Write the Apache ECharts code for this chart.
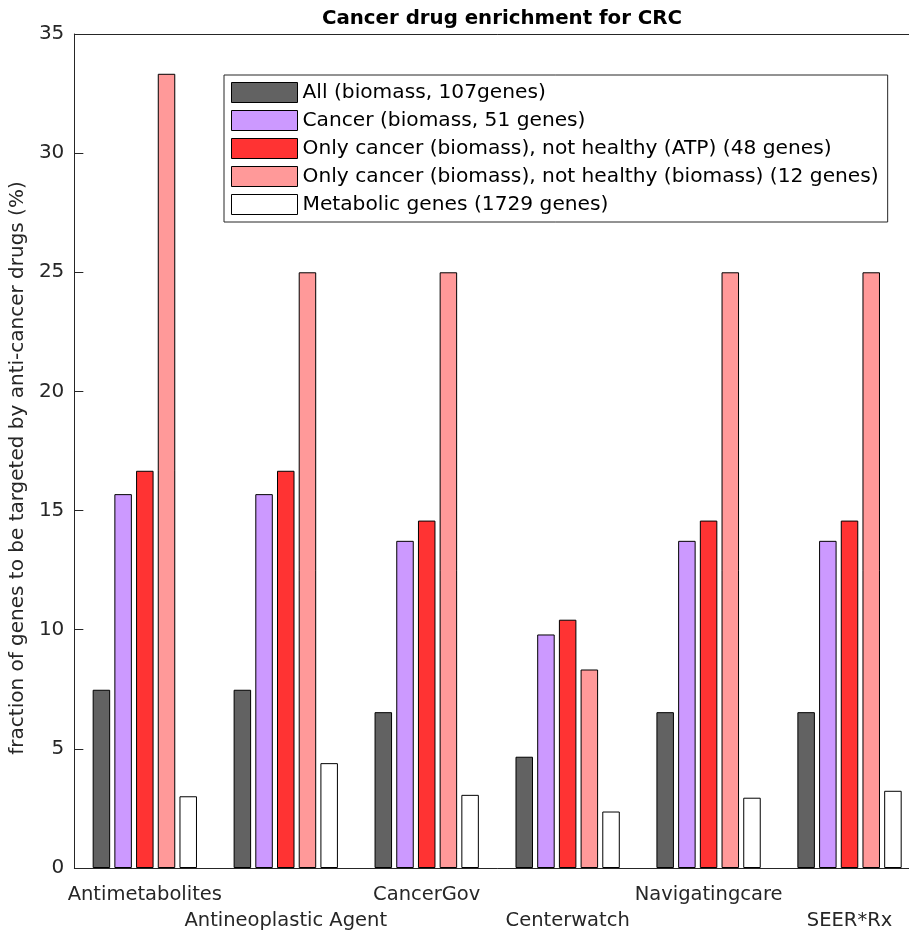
<!DOCTYPE html>
<html>
<head>
<meta charset="utf-8">
<script src="https://cdn.jsdelivr.net/npm/echarts@6/dist/echarts.min.js"></script>
<style>html,body{margin:0;padding:0;background:#fff;overflow:hidden;width:909px;height:937px}#c{width:930px;height:937px}</style>
</head>
<body>
<div id="c"></div>
<script>
var categories = ['Antimetabolites', 'Antineoplastic Agent', 'CancerGov', 'Centerwatch', 'Navigatingcare', 'SEER*Rx'];
var seriesNames = [
  'All (biomass, 107genes)',
  'Cancer (biomass, 51 genes)',
  'Only cancer (biomass), not healthy (ATP) (48 genes)',
  'Only cancer (biomass), not healthy (biomass) (12 genes)',
  'Metabolic genes (1729 genes)'
];
var allBiomass     = [7.48, 7.48, 6.54, 4.67, 6.54, 6.54];
var cancerBiomass  = [15.69, 15.69, 13.73, 9.80, 13.73, 13.73];
var onlyCancerATP  = [16.67, 16.67, 14.58, 10.42, 14.58, 14.58];
var onlyCancerBio  = [33.33, 25.00, 25.00, 8.33, 25.00, 25.00];
var metabolicGenes = [3.01, 4.40, 3.07, 2.37, 2.95, 3.24];
var yTicks = [0, 5, 10, 15, 20, 25, 30, 35];
var colors = ['#626262', '#cc99ff', '#ff3333', '#ff9999', '#ffffff'];

var dataSets = [allBiomass, cancerBiomass, onlyCancerATP, onlyCancerBio, metabolicGenes];
var txt = '#262626';
var font = 'DejaVu Sans';

var series = dataSets.map(function (d, i) {
  return {
    name: seriesNames[i],
    type: 'bar',
    data: d,
    barWidth: 17.5,
    barGap: '24%',
    itemStyle: { color: colors[i], borderColor: '#000', borderWidth: 1 },
    emphasis: { disabled: true },
    animation: false
  };
});

var chart = echarts.init(document.getElementById('c'), null, { renderer: 'canvas' });
chart.setOption({
  animation: false,
  backgroundColor: '#fff',
  title: {
    text: 'Cancer drug enrichment for CRC',
    left: 497, top: 4, textAlign: 'center',
    textStyle: { fontFamily: font, fontWeight: 'bold', fontSize: 19.8, color: '#000' }
  },
  legend: {
    orient: 'vertical', left: 224, top: 75,
    itemWidth: 66, itemHeight: 20, itemGap: 7,
    padding: [7, 9, 7, 7],
    borderColor: '#262626', borderWidth: 1, backgroundColor: '#fff',
    icon: 'rect',
    itemStyle: { borderColor: '#000', borderWidth: 1 },
    textStyle: { fontFamily: font, fontSize: 20.2, color: '#000', lineHeight: 20 },
    data: seriesNames
  },
  grid: { left: 74, top: 34, width: 846, bottom: 69, containLabel: false },
  xAxis: [{
    type: 'category', data: categories, position: 'bottom',
    axisLine: { lineStyle: { color: txt, width: 1 } },
    axisTick: { inside: true, alignWithLabel: true, length: 8, lineStyle: { color: txt } },
    axisLabel: {
      fontFamily: font, fontSize: 19.5, color: txt, margin: 14, lineHeight: 26, interval: 0,
      formatter: function (v, i) { return i % 2 ? '\n' + v : v; }
    }
  }, {
    type: 'category', data: categories, position: 'top',
    axisLine: { lineStyle: { color: txt, width: 1 } },
    axisTick: { inside: true, alignWithLabel: true, length: 8, lineStyle: { color: txt } },
    axisLabel: { show: false }
  }],
  yAxis: {
    type: 'value', min: yTicks[0], max: yTicks[yTicks.length - 1], interval: 5,
    name: 'fraction of genes to be targeted by anti-cancer drugs (%)',
    nameLocation: 'middle', nameRotate: 90, nameGap: 42,
    nameTextStyle: { fontFamily: font, fontSize: 20, color: txt, padding: [0, 34, 0, 0] },
    axisLine: { show: true, lineStyle: { color: txt, width: 1 } },
    axisTick: { show: true, inside: true, length: 9, lineStyle: { color: txt } },
    axisLabel: { fontFamily: font, fontSize: 20, color: txt, margin: 10 },
    splitLine: { show: false }
  },
  series: series
});
</script>
</body>
</html>
